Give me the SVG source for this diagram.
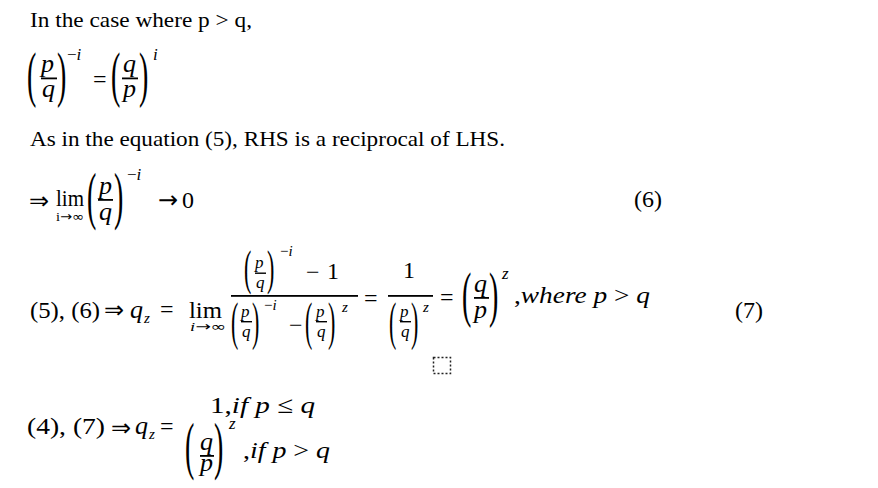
<svg xmlns="http://www.w3.org/2000/svg" width="878" height="488" viewBox="0 0 878 488">
<style>
text{font-family:"Liberation Serif","DejaVu Serif",serif;fill:#000}
.t{font-size:21px}
.m{font-size:24px}
.v{font-size:26px;font-style:italic}
.i{font-style:italic}
.s{font-size:17px}
.ss{font-size:15px}
.f{font-size:17px;font-style:italic}
.ar{font-family:"DejaVu Sans",sans-serif;font-size:24px}
.lim{font-size:13px}
.pl{font-size:28px}
.ps{font-size:22px}
.bar{fill:#000}
</style>
<rect width="878" height="488" fill="#fff"/>
<g id="line1">
<text class="t" x="30" y="27" textLength="222" lengthAdjust="spacingAndGlyphs">In the case where p &gt; q,</text>
</g>
<g id="line2">
<text class="pl" transform="translate(27 95) scale(1 2.214)">(</text>
<text class="v" x="41" y="72">p</text>
<rect class="bar" x="41" y="77.5" width="16" height="1.8"/>
<text class="v" x="42" y="97">q</text>
<text class="pl" transform="translate(57 95) scale(1 2.214)">)</text>
<text class="s" x="67" y="60">−<tspan class="i">i</tspan></text>
<text class="m" x="93" y="87">=</text>
<text class="pl" transform="translate(111 95) scale(1 2.214)">(</text>
<text class="v" x="123" y="72">q</text>
<rect class="bar" x="122" y="77.5" width="16" height="1.8"/>
<text class="v" x="123" y="97">p</text>
<text class="pl" transform="translate(139 95) scale(1 2.214)">)</text>
<text class="s i" x="153" y="60">i</text>
</g>
<g id="line3">
<text class="t" x="30" y="146" textLength="475" lengthAdjust="spacingAndGlyphs">As in the equation (5), RHS is a reciprocal of LHS.</text>
</g>
<g id="line4">
<text class="ar" x="29" y="209">⇒</text>
<text class="m" x="56" y="206" textLength="28" lengthAdjust="spacingAndGlyphs">lim</text>
<text class="lim" x="56" y="221" textLength="28" lengthAdjust="spacingAndGlyphs">i<tspan font-family="DejaVu Sans">→∞</tspan></text>
<text class="pl" transform="translate(87 216.6) scale(1 2.296)">(</text>
<text class="v" x="99" y="194">p</text>
<rect class="bar" x="98" y="199" width="15" height="1.8"/>
<text class="v" x="99" y="220">q</text>
<text class="pl" transform="translate(114 216.6) scale(1 2.296)">)</text>
<text class="s" x="127" y="180">−<tspan class="i">i</tspan></text>
<text class="ar" x="158" y="208" font-size="22">→</text>
<text class="m" x="182" y="208">0</text>
<text class="m" x="634" y="207">(6)</text>
</g>
<g id="line5">
<text class="m" x="30" y="318" textLength="70" lengthAdjust="spacingAndGlyphs">(5), (6)</text>
<text class="ar" x="104" y="318">⇒</text>
<text class="v" x="130" y="318">q</text>
<text class="ss i" x="144" y="323">z</text>
<text class="m" x="160" y="317">=</text>
<text class="m" x="189" y="318" textLength="33" lengthAdjust="spacingAndGlyphs">lim</text>
<text class="lim" x="190" y="331" textLength="36" lengthAdjust="spacingAndGlyphs"><tspan class="i">i</tspan><tspan font-family="DejaVu Sans">→∞</tspan></text>
<rect class="bar" x="231" y="295" width="127" height="1.8"/>
<text class="ps" transform="translate(244 283.5) scale(1 2.19)">(</text>
<text class="f" x="255" y="268">p</text>
<rect class="bar" x="255" y="272.5" width="11" height="1.4"/>
<text class="f" x="256" y="288">q</text>
<text class="ps" transform="translate(267 283.5) scale(1 2.19)">)</text>
<text class="ss" x="280" y="256">−<tspan class="i">i</tspan></text>
<text class="m" x="306" y="280">−</text>
<text class="m" x="327" y="279">1</text>
<text class="ps" transform="translate(231 338.6) scale(1 2.4)">(</text>
<text class="f" x="241" y="317">p</text>
<rect class="bar" x="241" y="321" width="11" height="1.4"/>
<text class="f" x="242" y="337">q</text>
<text class="ps" transform="translate(252 338.6) scale(1 2.4)">)</text>
<text class="ss" x="264" y="310">−<tspan class="i">i</tspan></text>
<text class="m" x="289" y="333">−</text>
<text class="ps" transform="translate(305 338.6) scale(1 2.4)">(</text>
<text class="f" x="316" y="317">p</text>
<rect class="bar" x="316" y="321" width="11" height="1.4"/>
<text class="f" x="317" y="337">q</text>
<text class="ps" transform="translate(328 338.6) scale(1 2.4)">)</text>
<text class="ss i" x="342" y="312">z</text>
<text class="m" x="364" y="306">=</text>
<text class="m" x="403" y="278">1</text>
<rect class="bar" x="388" y="295" width="45" height="1.8"/>
<text class="ps" transform="translate(389 338.6) scale(1 2.4)">(</text>
<text class="f" x="400" y="317">p</text>
<rect class="bar" x="400" y="321" width="11" height="1.4"/>
<text class="f" x="401" y="337">q</text>
<text class="ps" transform="translate(411 338.6) scale(1 2.4)">)</text>
<text class="ss i" x="423" y="312">z</text>
<text class="m" x="440" y="305">=</text>
<text class="pl" transform="translate(462 315.3) scale(1 2.174)">(</text>
<text class="v" x="474" y="292">q</text>
<rect class="bar" x="474" y="297" width="15" height="1.8"/>
<text class="v" x="474" y="318">p</text>
<text class="pl" transform="translate(489 315.3) scale(1 2.174)">)</text>
<text class="s i" x="502" y="279">z</text>
<text class="m" x="514" y="303" textLength="136" lengthAdjust="spacingAndGlyphs">,<tspan class="i">where p </tspan>&gt;<tspan class="i"> q</tspan></text>
<text class="m" x="735" y="318">(7)</text>
<rect x="433.5" y="357.5" width="17" height="16" fill="none" stroke="#222" stroke-width="1.5" stroke-dasharray="2 2"/>
</g>
<g id="line6">
<text class="m" x="27" y="434" textLength="78" lengthAdjust="spacingAndGlyphs">(4), (7)</text>
<text class="ar" x="111" y="436">⇒</text>
<text class="v" x="135" y="434">q</text>
<text class="ss i" x="149" y="439">z</text>
<text class="m" x="160" y="434">=</text>
<text class="m" x="210" y="413" textLength="105" lengthAdjust="spacingAndGlyphs">1,<tspan class="i">if p </tspan>≤<tspan class="i"> q</tspan></text>
<text class="pl" transform="translate(185 466.8) scale(1 2.254)">(</text>
<text class="v" x="200" y="450">q</text>
<rect class="bar" x="200" y="455" width="14" height="1.8"/>
<text class="v" x="200" y="471">p</text>
<text class="pl" transform="translate(214 466.8) scale(1 2.254)">)</text>
<text class="s i" x="229" y="429">z</text>
<text class="m" x="243" y="458" textLength="87" lengthAdjust="spacingAndGlyphs">,<tspan class="i">if p </tspan>&gt;<tspan class="i"> q</tspan></text>
</g>
</svg>
